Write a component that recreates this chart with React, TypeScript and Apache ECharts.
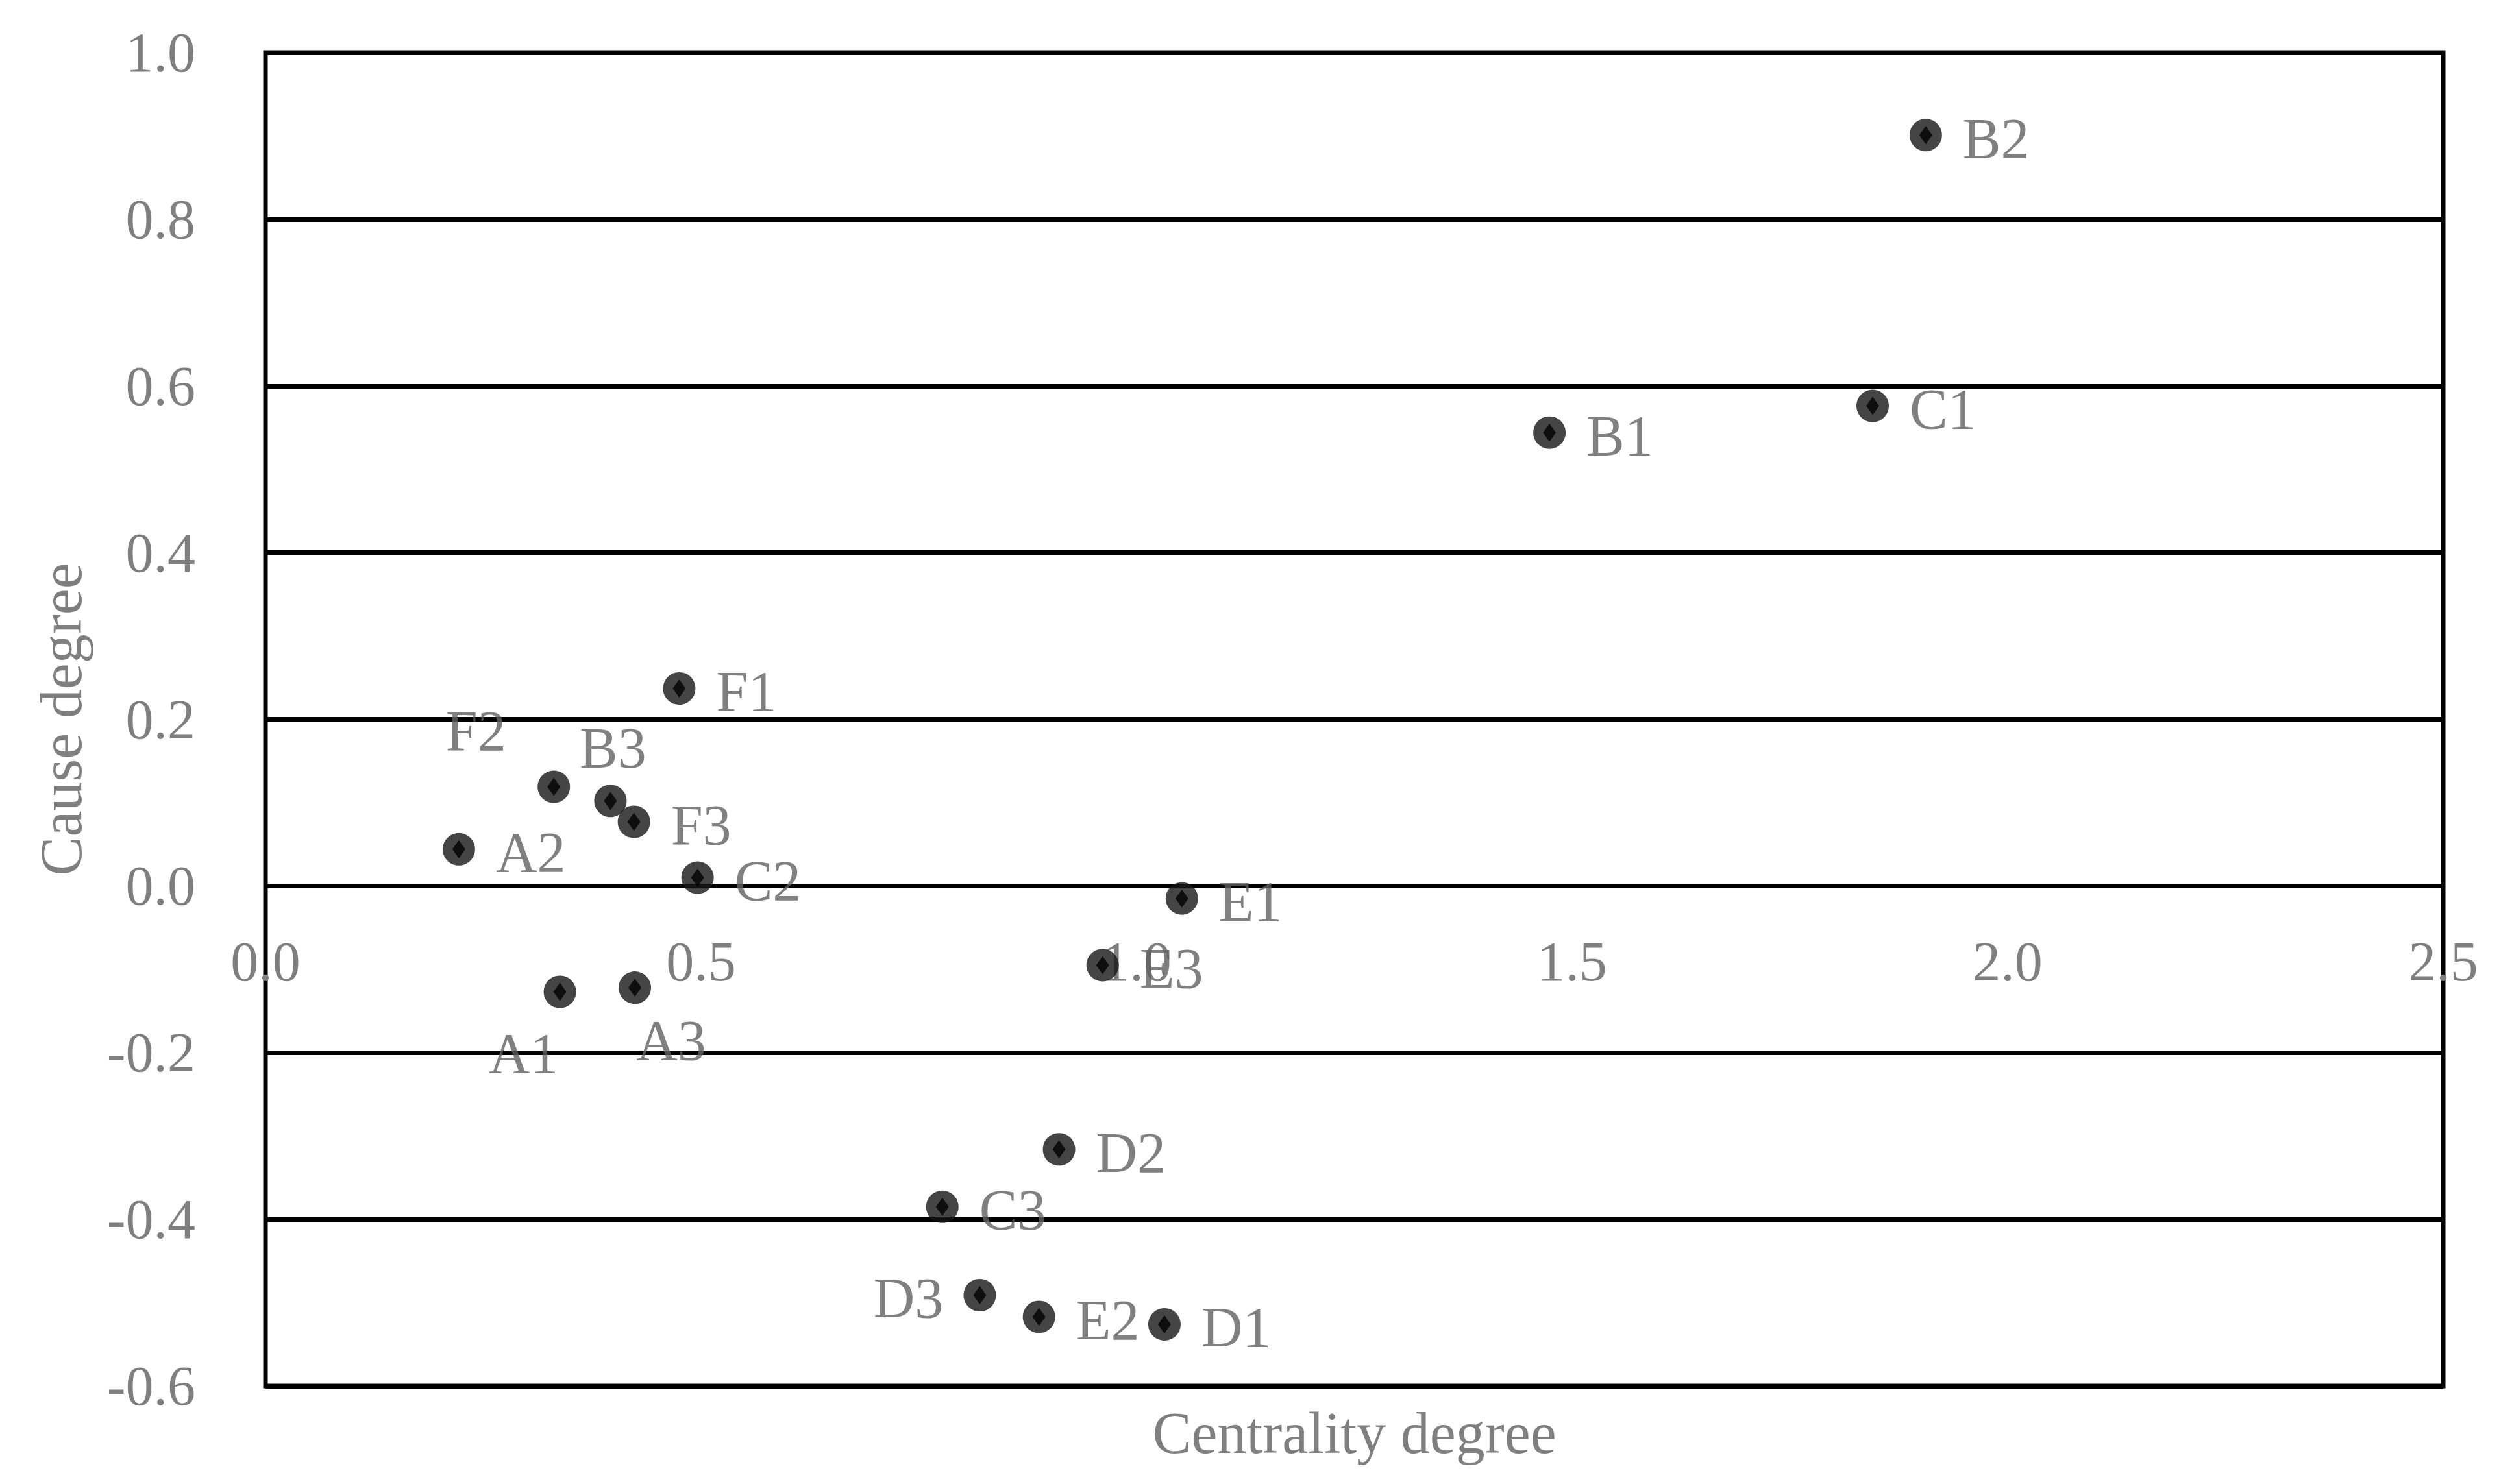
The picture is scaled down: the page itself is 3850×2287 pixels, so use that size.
import React, { useEffect, useRef } from "react";
import * as echarts from "echarts";

// ---- data ----
const factorNames = ["A1", "A2", "A3", "B1", "B2", "B3", "C1", "C2", "C3", "D1", "D2", "D3", "E1", "E2", "E3", "F1", "F2", "F3"];
const centralityDegree = [0.338, 0.222, 0.424, 1.474, 1.906, 0.396, 1.845, 0.496, 0.777, 1.032, 0.911, 0.820, 1.052, 0.888, 0.961, 0.475, 0.331, 0.423];
const causeDegree = [-0.127, 0.044, -0.122, 0.544, 0.901, 0.102, 0.576, 0.010, -0.385, -0.526, -0.316, -0.491, -0.015, -0.517, -0.095, 0.237, 0.119, 0.077];

const xTicks = { min: 0, max: 2.5, interval: 0.5 };
const yTicks = { min: -0.6, max: 1.0, interval: 0.2 };

const xTitle = "Centrality degree";
const yTitle = "Cause degree";

// label placement (style only): offsets for labels that are not to the right of the point
const specialLabelOffsets: Record<string, [number, number]> = {
  F2: [-120, -86],
  B3: [4, -82],
  A1: [-56, 95],
  A3: [56, 81],
  D3: [-110, 4],
};

const FONT = "'Liberation Serif', 'DejaVu Serif', serif";

export default function App() {
  const ref = useRef<HTMLDivElement>(null);

  useEffect(() => {
    document.body.style.margin = "0";
    document.body.style.overflow = "hidden";
    if (!ref.current) return;
    const chart = echarts.init(ref.current, undefined, { renderer: "svg" });

    const points = factorNames.map((name, i) => {
      const off = specialLabelOffsets[name];
      const item: any = { name, value: [centralityDegree[i], causeDegree[i]] };
      if (off) {
        item.label = { position: "inside", offset: off, distance: 0 };
      }
      return item;
    });
    const diamonds = factorNames.map((name, i) => ({ name, value: [centralityDegree[i], causeDegree[i]] }));

    chart.setOption({
      animation: false,
      backgroundColor: "#ffffff",
      grid: {
        left: 409,
        top: 81,
        right: 86,
        bottom: 151,
        show: true,
        borderColor: "#000000",
        borderWidth: 7,
        backgroundColor: "transparent",
      },
      xAxis: {
        type: "value",
        position: "bottom",
        min: xTicks.min,
        max: xTicks.max,
        interval: xTicks.interval,
        axisLine: { show: false, onZero: false },
        axisTick: { show: false },
        splitLine: { show: false },
        axisLabel: {
          margin: -697,
          color: "#7f7f7f",
          fontFamily: FONT,
          fontSize: 86,
          formatter: (v: number) => v.toFixed(1),
        },
        name: xTitle,
        nameLocation: "middle",
        nameGap: 27,
        nameMoveOverlap: false,
        nameTextStyle: { color: "#7f7f7f", fontFamily: FONT, fontSize: 90 },
      },
      yAxis: {
        type: "value",
        min: yTicks.min,
        max: yTicks.max,
        interval: yTicks.interval,
        axisLine: { show: false },
        axisTick: { show: false },
        splitLine: { show: true, lineStyle: { color: "#000", width: 7 } },
        axisLabel: {
          margin: 108,
          color: "#7f7f7f",
          fontFamily: FONT,
          fontSize: 86,
          formatter: (v: number) => v.toFixed(1),
        },
        name: yTitle,
        nameLocation: "middle",
        nameGap: 270,
        nameMoveOverlap: false,
        nameTextStyle: { color: "#7f7f7f", fontFamily: FONT, fontSize: 90 },
      },
      series: [
        {
          type: "scatter",
          data: points,
          symbol: "circle",
          symbolSize: 50,
          itemStyle: { color: "#161616" },
          label: {
            show: true,
            position: "right",
            distance: 32,
            offset: [0, 5],
            formatter: (p: any) => p.name,
            color: "#606060",
            fontFamily: FONT,
            fontSize: 88,
          },
          z: 3,
        },
        {
          type: "scatter",
          data: diamonds,
          symbol: "diamond",
          symbolSize: [20, 28],
          itemStyle: { color: "#000000" },
          silent: true,
          label: { show: false },
          z: 4,
        },
      ],
    });

    return () => chart.dispose();
  }, []);

  return <div ref={ref} style={{ width: 3850, height: 2287 }} />;
}
